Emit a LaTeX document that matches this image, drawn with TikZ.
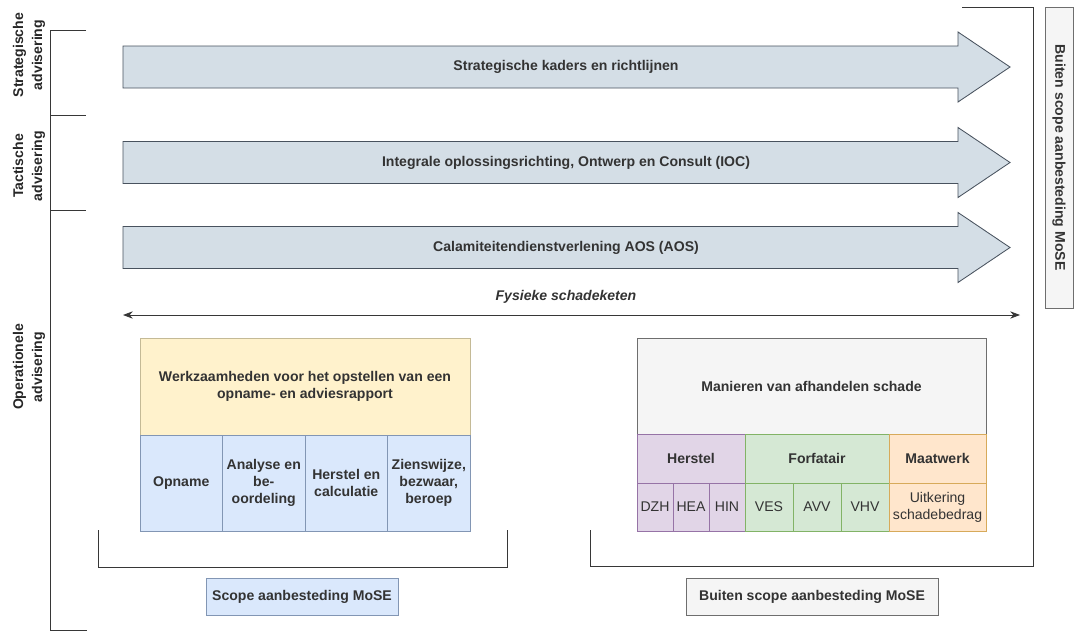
\documentclass[tikz,border=0pt]{standalone}
\usepackage{fontspec}
\setmainfont{Liberation Sans}
\usetikzlibrary{positioning}
\usetikzlibrary{arrows.meta}

\definecolor{bandfill}{RGB}{212,222,230}
\definecolor{bandline}{RGB}{72,82,94}
\definecolor{werkfill}{RGB}{255,242,204}
\definecolor{werkline}{RGB}{196,186,150}
\definecolor{stapfill}{RGB}{218,232,252}
\definecolor{stapline}{RGB}{130,150,180}
\definecolor{grijsfill}{RGB}{245,245,245}
\definecolor{grijsline}{RGB}{110,110,110}
\definecolor{herstelfill}{RGB}{225,213,231}
\definecolor{herstelline}{RGB}{150,115,166}
\definecolor{forfaitfill}{RGB}{213,232,212}
\definecolor{forfaitline}{RGB}{130,179,102}
\definecolor{maatfill}{RGB}{255,230,204}
\definecolor{maatline}{RGB}{215,170,90}
\definecolor{lijn}{RGB}{55,55,55}

\begin{document}
\begin{tikzpicture}
        [
            x=0.025cm, y=-0.025cm,
            every node/.style={font=\fontsize{10}{12}\selectfont\bfseries, text=black!80, outer sep=0pt, inner sep=1pt},
            band/.style={draw=bandline, fill=bandfill, line width=0.6pt},
            bracket/.style={draw=lijn, line width=0.6pt},
            niveau/.style={rotate=90, align=center, text=black!85, font=\fontsize{10}{13.5}\selectfont\bfseries},
            werk/.style={rectangle, draw=werkline, fill=werkfill, align=center, minimum width=8.25cm, minimum height=2.425cm},
            stap/.style={rectangle, draw=stapline, fill=stapfill, align=center, minimum width=2.0625cm, minimum height=2.4cm},
            manier/.style={rectangle, draw=grijsline, fill=grijsfill, minimum width=8.725cm, minimum height=2.4cm},
            soort/.style={rectangle, align=center, minimum height=1.225cm},
            code/.style={rectangle, align=center, minimum height=1.2cm, font=\fontsize{10}{12}\selectfont},
            scopebox/.style={rectangle, draw, minimum height=0.925cm}
        ]
        \useasboundingbox (0,0) rectangle (1074,632);
        %levels
        \draw[bracket] (86,30) -- (50,30) -- (50,630) -- (87,630);
        \draw[bracket] (50,115) -- (86,115);
        \draw[bracket] (50,210) -- (86,210);
        \node[niveau] at (29,55)                (strat_lbl)     {Strategische\\advisering};
        \node[niveau] at (29,166)               (tact_lbl)      {Tactische\\advisering};
        \node[niveau] at (29,367)               (oper_lbl)      {Operationele\\advisering};
        %band arrows
        \draw[band] (123,46) -- (958,46) -- (958,32) -- (1010,67) -- (958,102) -- (958,88) -- (123,88) -- cycle;
        \draw[band] (123,141.5) -- (958,141.5) -- (958,127.5) -- (1010,162.5) -- (958,197.5) -- (958,183.5) -- (123,183.5) -- cycle;
        \draw[band] (123,226.5) -- (958,226.5) -- (958,212.5) -- (1010,247.5) -- (958,282.5) -- (958,268.5) -- (123,268.5) -- cycle;
        \node at (566,67)                       (strat)         {Strategische kaders en richtlijnen};
        \node at (566,162.5)                    (ioc)           {Integrale oplossingsrichting, Ontwerp en Consult (IOC)};
        \node at (566,247.5)                    (aos)           {Calamiteitendienstverlening AOS (AOS)};
        %schadeketen
        \coordinate (keten_l) at (123,315);
        \coordinate (keten_r) at (1020,315);
        \draw[lijn, line width=0.6pt, {Stealth[length=7pt]}-{Stealth[length=7pt]}] (keten_l) -- (keten_r);
        \node[font=\fontsize{10}{12}\selectfont\bfseries\itshape] at (566,297) (keten) {Fysieke schadeketen};
        %scope block
        \node[werk] at (305,386.5)              (werk)          {Werkzaamheden voor het opstellen van een\\opname- en adviesrapport};
        \node[stap, below right=0cm of werk.south west] (opname)    {Opname};
        \node[stap, right=0cm of opname]        (analyse)       {Analyse en\\be-\\oordeling};
        \node[stap, right=0cm of analyse]       (herstelcalc)   {Herstel en\\calculatie};
        \node[stap, right=0cm of herstelcalc]   (zienswijze)    {Zienswijze,\\bezwaar,\\beroep};
        %buiten scope block
        \node[manier] at (811.5,386)            (manier)        {Manieren van afhandelen schade};
        \node[soort, draw=herstelline, fill=herstelfill, minimum width=2.7cm, below right=0cm of manier.south west] (herstel) {Herstel};
        \node[soort, draw=forfaitline, fill=forfaitfill, minimum width=3.6cm, right=0cm of herstel]   (forfait)   {Forfatair};
        \node[soort, draw=maatline, fill=maatfill, minimum width=2.425cm, right=0cm of forfait]       (maatwerk)  {Maatwerk};
        \node[code, draw=herstelline, fill=herstelfill, minimum width=0.9cm, below right=0cm of herstel.south west] (dzh) {DZH};
        \node[code, draw=herstelline, fill=herstelfill, minimum width=0.9cm, right=0cm of dzh]        (hea)       {HEA};
        \node[code, draw=herstelline, fill=herstelfill, minimum width=0.9cm, right=0cm of hea]        (hin)       {HIN};
        \node[code, draw=forfaitline, fill=forfaitfill, minimum width=1.2cm, right=0cm of hin]        (ves)       {VES};
        \node[code, draw=forfaitline, fill=forfaitfill, minimum width=1.2cm, right=0cm of ves]        (avv)       {AVV};
        \node[code, draw=forfaitline, fill=forfaitfill, minimum width=1.2cm, right=0cm of avv]        (vhv)       {VHV};
        \node[code, draw=maatline, fill=maatfill, minimum width=2.425cm, right=0cm of vhv]            (uitkering) {Uitkering\\schadebedrag};
        %brackets
        \draw[bracket] (98,530) -- (98,567) -- (507,567) -- (507,530);
        \draw[bracket] (962,7) -- (1033,7) -- (1033,566) -- (590,566) -- (590,530);
        \node[scopebox, draw=stapline, fill=stapfill, minimum width=4.8cm] at (302,596.5)   (scope)     {Scope aanbesteding MoSE};
        \node[scopebox, draw=grijsline, fill=grijsfill, minimum width=6.3cm] at (812,596.5) (buiten)    {Buiten scope aanbesteding MoSE};
        \node[scopebox, draw=grijsline, fill=grijsfill, rotate=-90, minimum width=7.525cm, minimum height=0.7cm] at (1059,157.5) (buiten_r) {Buiten scope aanbesteding MoSE};
    \end{tikzpicture}
\end{document}
